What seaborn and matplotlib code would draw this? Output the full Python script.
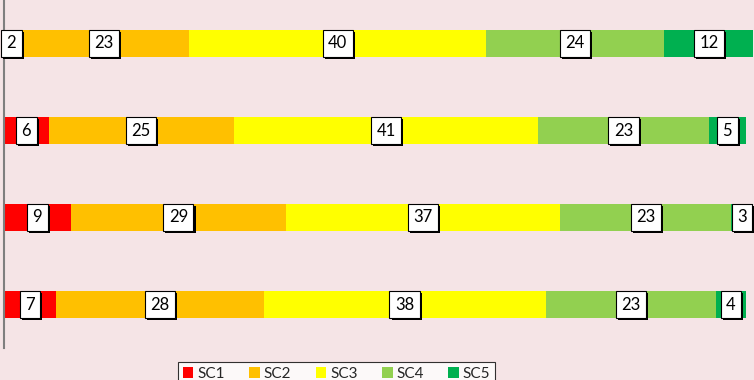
import matplotlib
matplotlib.use("Agg")
import matplotlib.pyplot as plt
import matplotlib.patheffects as pe
from matplotlib.patches import Patch
import seaborn as sns
import pandas as pd
import numpy as np

categories = ["R1", "R2", "R3", "R4"]
series = ["SC1", "SC2", "SC3", "SC4", "SC5"]
sc1 = [2, 6, 9, 7]
sc2 = [23, 25, 29, 28]
sc3 = [40, 41, 37, 38]
sc4 = [24, 23, 23, 23]
sc5 = [12, 5, 3, 4]
colors = ["#FF0000", "#FFC000", "#FFFF00", "#92D050", "#00B050"]

bg = "#F5E4E6"
sns.set_theme(style="white")
plt.rcParams["font.family"] = ["Lato", "DejaVu Sans"]

fig = plt.figure(figsize=(7.54, 3.8), dpi=100, facecolor=bg)
ax = fig.add_axes([4 / 754, 1 - 348 / 380, 750 / 754, 348 / 380])
ax.set_facecolor(bg)

vals = np.array([sc1, sc2, sc3, sc4, sc5], dtype=float)
cum = np.cumsum(vals, axis=0)
order = categories

# draw from the longest cumulative bar down so that they stack
for i in range(len(series) - 1, -1, -1):
    df = pd.DataFrame({"cat": categories, "val": cum[i]})
    sns.barplot(data=df, x="val", y="cat", order=order, color=colors[i],
                width=0.32, saturation=1, ax=ax, orient="h", linewidth=0)

for i in range(len(series)):
    starts = cum[i] - vals[i]
    for j, cat in enumerate(categories):
        x = starts[j] + vals[i][j] / 2
        t = ax.text(x, j, f"{int(vals[i][j])}", ha="center", va="center",
                    fontsize=12, color="black", zorder=5,
                    bbox=dict(boxstyle="square,pad=0.33", fc="white",
                              ec="black", lw=0.8))
        t.get_bbox_patch().set_path_effects([
            pe.SimplePatchShadow(offset=(1.5, -1.5), shadow_rgbFace="black", alpha=1),
            pe.Normal()])

ax.set_xlim(0, 101.1)
ax.set_ylim(3.5, -0.5)
ax.set_xticks([])
ax.set_yticks([])
ax.set_xlabel("")
ax.set_ylabel("")
for s in ["top", "right", "bottom"]:
    ax.spines[s].set_visible(False)
ax.spines["left"].set_color("#7F7F7F")
ax.spines["left"].set_linewidth(1.5)

handles = [Patch(facecolor=c, edgecolor="none", label=s) for c, s in zip(colors, series)]
leg = fig.legend(handles=handles, loc="upper left",
                 bbox_to_anchor=(178 / 754, 1 - 362 / 380), ncol=5,
                 frameon=True, fancybox=False, fontsize=11,
                 handlelength=0.7, handleheight=0.7, handletextpad=0.25,
                 columnspacing=1.6, borderpad=0.3, borderaxespad=0)
leg.get_frame().set_edgecolor("black")
leg.get_frame().set_linewidth(0.8)
leg.get_frame().set_facecolor("white")

fig.savefig("out.png", dpi=100, facecolor=bg)
